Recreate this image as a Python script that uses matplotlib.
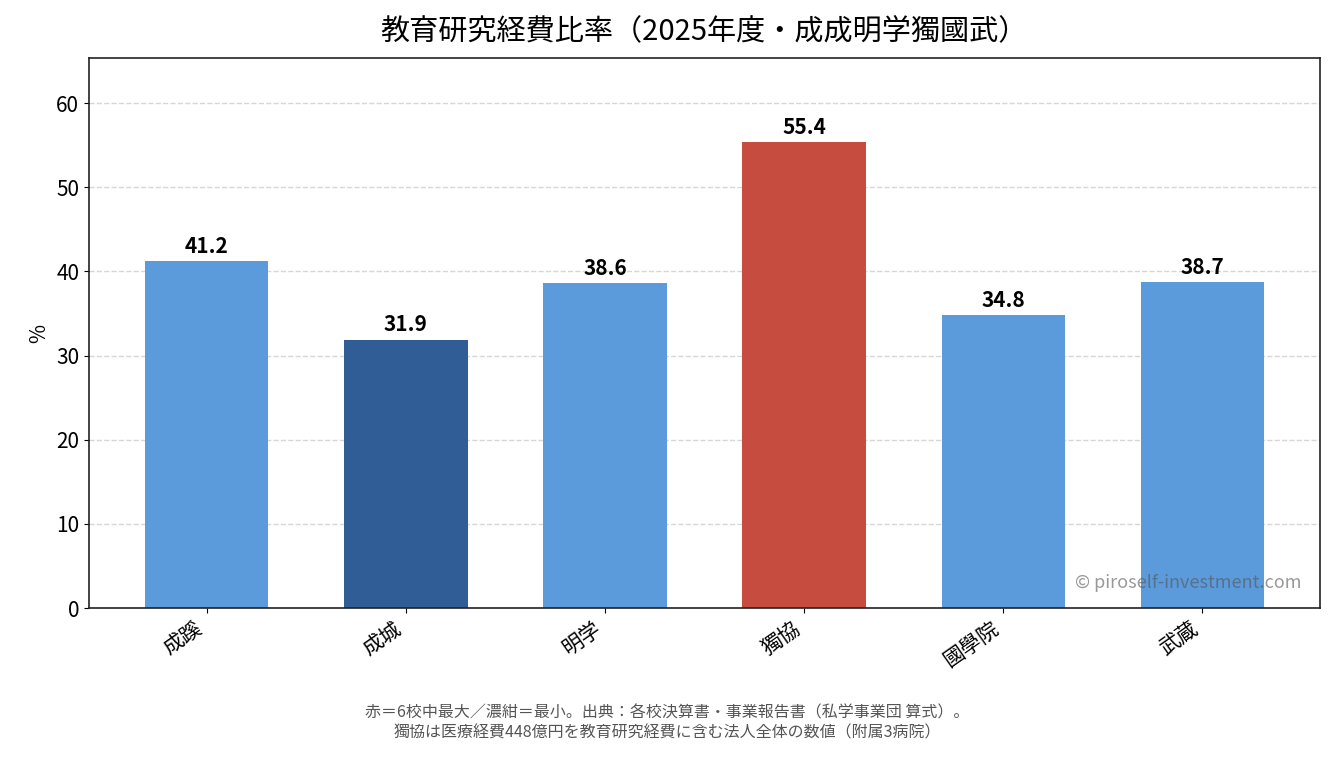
import matplotlib
matplotlib.use("Agg")
import matplotlib.pyplot as plt

plt.rcParams['font.family'] = ['Noto Sans CJK JP', 'DejaVu Sans']

schools = ["成蹊", "成城", "明学", "獨協", "國學院", "武蔵"]
ratios = [41.2, 31.9, 38.6, 55.4, 34.8, 38.7]

LIGHT = "#5b9bdb"
DARK = "#315d97"
RED = "#c64c3f"

vmax = max(ratios)
vmin = min(ratios)
colors = []
for v in ratios:
    if v == vmax:
        colors.append(RED)
    elif v == vmin:
        colors.append(DARK)
    else:
        colors.append(LIGHT)

fig = plt.figure(figsize=(13.35, 7.57), dpi=100)
ax = fig.add_axes([0.0667, 0.1968, 0.9221, 0.7266])

x = range(len(schools))
bars = ax.bar(x, ratios, width=0.62, color=colors, zorder=2)

for b, v in zip(bars, ratios):
    ax.annotate(f"{v:.1f}", (b.get_x() + b.get_width() / 2, v),
                xytext=(0, 3), textcoords="offset points",
                ha="center", va="bottom", fontsize=15, fontweight="bold")

ax.set_ylim(0, vmax * 1.18)
ax.set_xticks(list(x))
ax.set_xticklabels(schools, rotation=35, ha="right", fontsize=15)
ax.tick_params(axis="y", labelsize=15)
ax.set_ylabel("%", fontsize=15)
ax.grid(axis="y", linestyle="--", color="#cccccc", linewidth=1, alpha=0.8, zorder=0)
ax.set_axisbelow(True)
for s in ax.spines.values():
    s.set_linewidth(1.2)
    s.set_color("#222222")

ax.set_title("教育研究経費比率（2025年度・成成明学獨國武）", fontsize=21, pad=13)

ax.text(0.985, 0.03, "© piroself-investment.com", transform=ax.transAxes,
        ha="right", va="bottom", fontsize=13, color="#555555", alpha=0.6, zorder=5)

fig.text(0.5, 0.045,
         "赤＝6校中最大／濃紺＝最小。出典：各校決算書・事業報告書（私学事業団 算式）。\n"
         "獨協は医療経費448億円を教育研究経費に含む法人全体の数値（附属3病院）",
         ha="center", va="center", fontsize=11.5, color="#555555", linespacing=1.3)

fig.savefig("out.png", dpi=100)
